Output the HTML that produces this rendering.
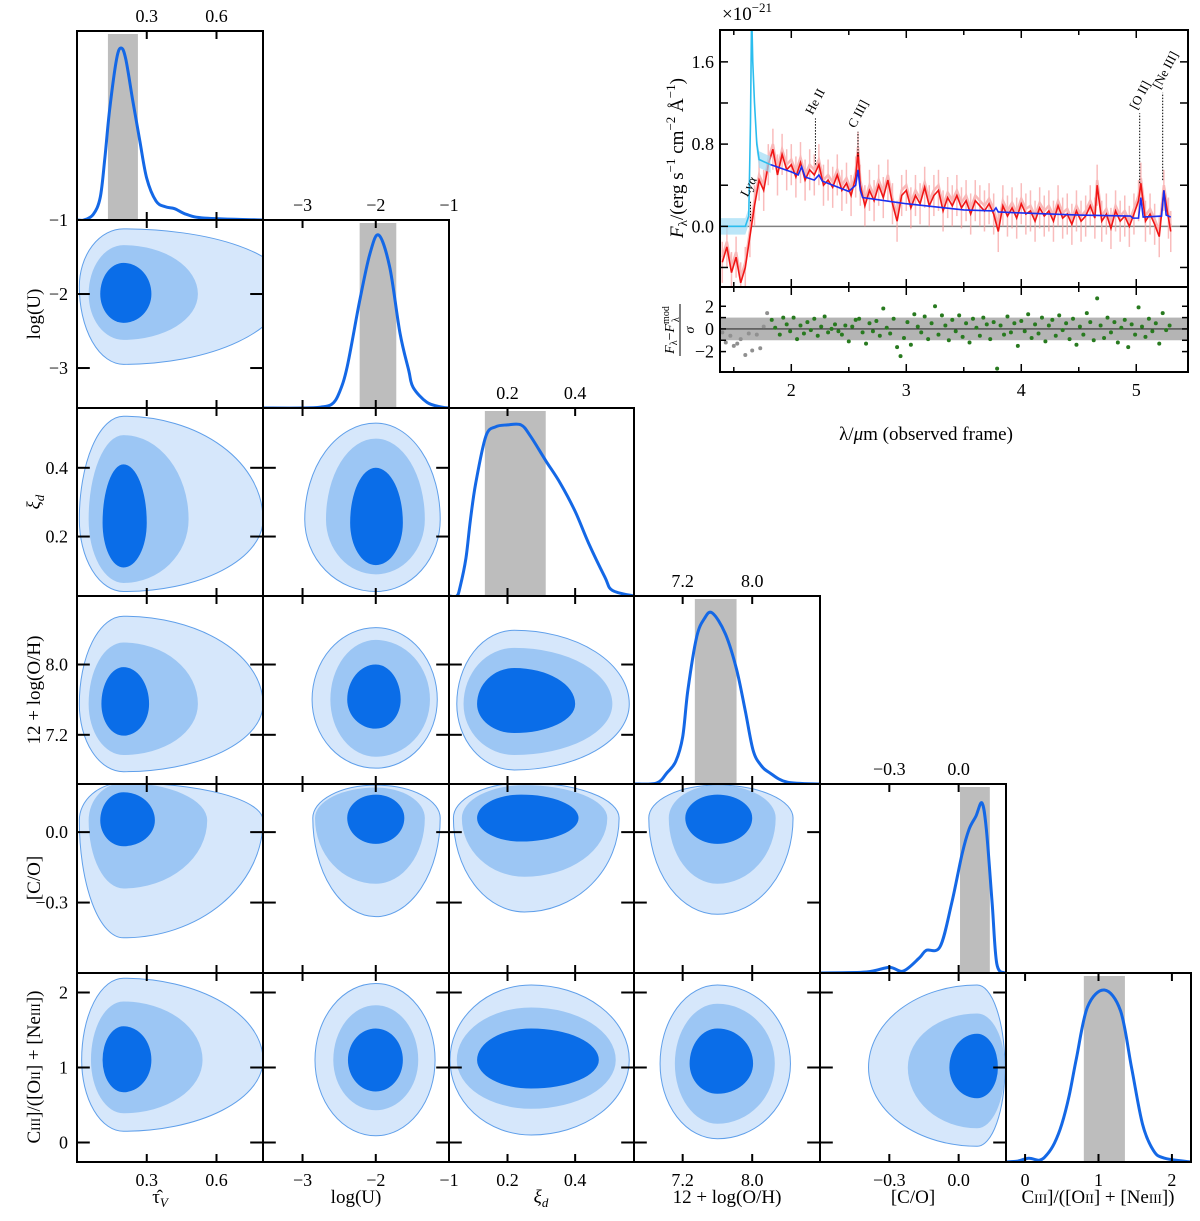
<!DOCTYPE html>
<html><head><meta charset="utf-8"><title>Corner plot</title>
<style>
html,body{margin:0;padding:0;background:#fff}
svg{display:block}
text{font-family:"Liberation Serif","DejaVu Serif",serif;fill:#000}
</style></head>
<body>
<svg id="chart" width="1200" height="1221" viewBox="0 0 1200 1221" xmlns="http://www.w3.org/2000/svg">
 <text x="722" y="20" font-size="19">×10<tspan font-size="13" dy="-8">−21</tspan></text>
 <text transform="translate(683,158) rotate(-90)" font-size="19" text-anchor="middle"><tspan font-style="italic">F</tspan><tspan font-size="13" dy="4">λ</tspan><tspan dy="-4">/(erg s</tspan><tspan font-size="13" dy="-8">−1</tspan><tspan dy="8"> cm</tspan><tspan font-size="13" dy="-8">−2</tspan><tspan dy="8"> Å</tspan><tspan font-size="13" dy="-8">−1</tspan><tspan dy="8">)</tspan></text>
 <text x="926" y="440" font-size="19" text-anchor="middle">λ/<tspan font-style="italic">μ</tspan>m (observed frame)</text>
</svg>
<script>
// ---------- corner plot data ----------
const paramNames = ['tauV','logU','xi','OH','CO','CIII'];
const paramRanges = [[0,0.8],[-3.54,-1],[0.027,0.574],[6.64,8.78],[-0.6,0.205],[-0.26,2.26]];
const paramTicks = [[0.3,0.6],[-3,-2,-1],[0.2,0.4],[7.2,8.0],[-0.3,0.0],[0,1,2]];
const paramTickLabels = [['0.3','0.6'],['−3','−2','−1'],['0.2','0.4'],['7.2','8.0'],['−0.3','0.0'],['0','1','2']];
// 1D marginals
const m_tauV_x = [0,.03,.07,.1,.12,.14,.17,.19,.21,.24,.27,.3,.34,.38,.42,.47,.55,.8];
const m_tauV_d = [0,0,.03,.12,.33,.58,.85,.91,.85,.63,.42,.22,.1,.07,.06,.03,.01,0];
const m_logU_x = [-3.54,-3,-2.75,-2.6,-2.5,-2.39,-2.22,-2.08,-1.96,-1.81,-1.67,-1.55,-1.49,-1.3,-1.1,-1];
const m_logU_d = [0,0,.005,.02,.08,.22,.57,.82,.92,.75,.4,.2,.11,.03,.005,0];
const m_xi_x = [.027,.05,.06,.077,.09,.106,.136,.165,.2,.24,.268,.313,.356,.4,.44,.488,.51,.574];
const m_xi_d = [0,0,.05,.2,.4,.6,.85,.9,.91,.91,.85,.72,.6,.45,.28,.1,.03,0];
const m_OH_x = [6.64,6.9,7.02,7.12,7.2,7.26,7.36,7.45,7.54,7.69,7.82,7.92,8.01,8.1,8.2,8.4,8.78];
const m_OH_d = [0,.005,.06,.12,.25,.5,.78,.88,.91,.8,.61,.39,.18,.1,.06,.01,0];
const m_CO_x = [-.6,-.4,-.3,-.24,-.17,-.14,-.08,-.03,.015,.045,.075,.101,.12,.145,.165,.2];
const m_CO_d = [0,.005,.03,.01,.08,.12,.14,.37,.63,.76,.83,.9,.76,.37,.05,0];
const m_CIII_x = [-.26,-.1,.05,.2,.3,.4,.5,.6,.7,.85,1.08,1.3,1.45,1.6,1.75,1.9,2.26];
const m_CIII_d = [0,.005,.02,.01,.04,.1,.2,.35,.55,.82,.91,.8,.5,.2,.06,.02,0];
// credible bands [lo, hi]
const bands = [[.133,.262],[-2.22,-1.72],[.133,.313],[7.34,7.82],[.006,.135],[.8,1.36]];
// 2D contours: [cx, cy, left, right, down, up] per level (light, mid, dark)
const c_1_0 = [[0.2,-1.9,0.19,0.7,1.05,0.78],[0.2,-2.0,0.15,0.32,0.62,0.66],[0.2,-2.0,0.1,0.12,0.39,0.42]];
const c_2_0 = [[0.2,0.25,0.19,0.6,0.21,0.3],[0.2,0.25,0.15,0.28,0.185,0.245],[0.2,0.24,0.09,0.1,0.13,0.17]];
const c_2_1 = [[-2.0,0.25,0.97,0.88,0.21,0.28],[-2.0,0.25,0.68,0.67,0.16,0.235],[-2.0,0.24,0.35,0.37,0.123,0.16]];
const c_3_0 = [[0.2,7.55,0.19,0.6,0.77,1.0],[0.2,7.55,0.15,0.32,0.58,0.7],[0.2,7.55,0.095,0.11,0.36,0.42]];
const c_3_1 = [[-2.0,7.6,0.87,0.84,0.78,0.82],[-2.0,7.6,0.62,0.74,0.65,0.68],[-2.0,7.6,0.39,0.34,0.33,0.4]];
const c_3_2 = [[0.22,7.55,0.17,0.34,0.75,0.84],[0.22,7.55,0.15,0.29,0.58,0.64],[0.22,7.55,0.11,0.18,0.33,0.41]];
const c_4_0 = [[0.2,0.05,0.19,0.6,0.5,0.16],[0.2,0.05,0.15,0.36,0.29,0.16],[0.2,0.05,0.1,0.135,0.11,0.12]];
const c_4_1 = [[-2.0,0.06,0.86,0.88,0.42,0.14],[-2.0,0.06,0.83,0.67,0.28,0.13],[-2.0,0.06,0.39,0.39,0.11,0.1]];
const c_4_2 = [[0.25,0.06,0.21,0.28,0.4,0.15],[0.25,0.06,0.185,0.245,0.25,0.14],[0.24,0.06,0.13,0.17,0.1,0.1]];
const c_4_3 = [[7.6,0.06,0.79,0.87,0.41,0.14],[7.6,0.06,0.56,0.67,0.28,0.14],[7.6,0.06,0.37,0.4,0.11,0.1]];
const c_5_0 = [[0.2,1.1,0.18,0.6,0.95,1.09],[0.2,1.1,0.14,0.34,0.71,0.78],[0.2,1.1,0.09,0.12,0.43,0.45]];
const c_5_1 = [[-2.0,1.1,0.83,0.81,1.01,1.02],[-2.0,1.1,0.58,0.58,0.67,0.73],[-2.0,1.1,0.38,0.37,0.42,0.42]];
const c_5_2 = [[0.27,1.1,0.24,0.29,1.0,1.0],[0.27,1.1,0.22,0.25,0.65,0.7],[0.27,1.1,0.16,0.2,0.38,0.42]];
const c_5_3 = [[7.6,1.05,0.66,0.84,1.0,1.05],[7.6,1.05,0.49,0.66,0.8,0.8],[7.6,1.05,0.32,0.41,0.4,0.47]];
const c_5_4 = [[0.08,1.0,0.47,0.12,1.05,1.1],[0.08,1.0,0.3,0.12,0.81,0.72],[0.08,1.0,0.12,0.09,0.41,0.45]];

// ---------- spectrum data ----------
const specWave = [1.40,1.44,1.48,1.52,1.56,1.60,1.64,1.68,1.72,1.76,1.80,1.84,1.88,1.92,1.96,2.00,2.04,2.08,2.12,2.16,2.20,2.24,2.28,2.32,2.36,2.40,2.44,2.48,2.52,2.56,2.58,2.60,2.64,2.68,2.72,2.76,2.80,2.84,2.88,2.92,2.96,3.00,3.04,3.08,3.12,3.16,3.20,3.24,3.28,3.32,3.36,3.40,3.44,3.48,3.52,3.56,3.60,3.64,3.68,3.72,3.76,3.80,3.84,3.88,3.92,3.96,4.00,4.04,4.08,4.12,4.16,4.20,4.24,4.28,4.32,4.36,4.40,4.44,4.48,4.52,4.56,4.60,4.64,4.66,4.70,4.74,4.78,4.82,4.86,4.90,4.94,4.98,5.02,5.04,5.08,5.12,5.16,5.20,5.24,5.28,5.30];
const specFlux = [-0.35,-0.2,-0.45,-0.3,-0.55,-0.4,-0.1,0.2,0.45,0.35,0.6,0.75,0.5,0.7,0.55,0.6,0.48,0.62,0.45,0.55,0.5,0.6,0.4,0.45,0.38,0.5,0.35,0.42,0.3,0.48,0.72,0.4,0.2,0.35,0.25,0.4,0.28,0.45,0.22,0.05,0.3,0.35,0.18,0.3,0.22,0.38,0.2,0.3,0.35,0.15,0.28,0.2,0.3,0.18,0.25,0.12,0.25,0.2,0.15,0.22,0.12,-0.05,0.2,0.1,0.18,0.08,0.22,0.12,0.15,0.05,0.18,0.1,0.15,0.05,0.2,0.08,0.12,0.02,0.15,0.05,0.1,0.2,0.08,0.4,0.05,0.12,-0.02,0.15,0.05,0.1,0.0,0.12,0.25,0.42,0.05,0.12,0.02,-0.1,0.35,0.08,-0.05];
const modelWave = [1.82,2.0,2.06,2.09,2.12,2.2,2.24,2.27,2.5,2.56,2.58,2.6,2.62,3.0,3.5,3.76,3.78,3.8,4.0,4.5,4.95,4.97,5.02,5.04,5.06,5.22,5.24,5.26,5.3];
const modelFlux = [0.6,0.53,0.5,0.58,0.48,0.45,0.5,0.44,0.34,0.4,0.55,0.35,0.28,0.22,0.16,0.15,0.18,0.14,0.13,0.11,0.1,0.08,0.08,0.28,0.09,0.1,0.35,0.11,0.09];
const uvWave = [1.38,1.6,1.63,1.645,1.655,1.665,1.68,1.7,1.72,1.82];
const uvFlux = [0,0,0.1,1.0,2.1,1.6,1.2,0.8,0.65,0.6];
const lineNames = ['Lyα','He II','C III]','[O II]','[Ne III]'];
const lineWave = [1.645,2.21,2.58,5.03,5.23];
const lineBase = [0.05,0.6,0.68,0.42,0.45];
const lineTop = [0.25,1.05,0.92,1.1,1.3];
const residWave = [1.40,1.43,1.47,1.50,1.53,1.56,1.60,1.63,1.66,1.70,1.73,1.76,1.79,1.83,1.86,1.9,1.93,1.96,1.99,2.02,2.05,2.08,2.11,2.14,2.17,2.2,2.23,2.26,2.29,2.32,2.35,2.38,2.41,2.44,2.47,2.5,2.53,2.56,2.59,2.62,2.65,2.68,2.71,2.74,2.77,2.8,2.83,2.86,2.89,2.92,2.95,2.98,3.01,3.04,3.07,3.1,3.13,3.16,3.19,3.22,3.25,3.28,3.31,3.34,3.37,3.4,3.43,3.46,3.49,3.52,3.55,3.58,3.61,3.64,3.67,3.7,3.73,3.76,3.79,3.82,3.85,3.88,3.91,3.94,3.97,4.0,4.03,4.06,4.09,4.12,4.15,4.18,4.21,4.24,4.27,4.3,4.33,4.36,4.39,4.42,4.45,4.48,4.51,4.54,4.57,4.6,4.63,4.66,4.69,4.72,4.75,4.78,4.81,4.84,4.87,4.9,4.93,4.96,4.99,5.02,5.05,5.08,5.11,5.14,5.17,5.2,5.23,5.26,5.29];
const residVal = [-0.3,-1.2,-0.6,-1.5,-1.3,-0.9,-2.3,-0.4,-1.9,-0.5,-1.7,0.2,1.4,0.8,0.1,-0.5,1.0,0.4,-0.2,1.0,-0.9,0.3,-0.4,0.6,-0.1,0.9,-0.6,0.2,1.1,-0.3,0.0,0.4,-0.2,-0.5,0.3,-1.1,0.2,0.8,0.9,-0.3,-1.3,0.5,-0.2,0.7,-0.6,1.8,0.1,-0.4,0.9,-1.6,-2.4,-0.8,0.6,-1.4,1.3,0.2,-0.3,1.1,-0.9,0.5,2.0,-0.5,1.2,0.3,-1.0,0.8,-0.2,1.2,-0.7,0.5,-1.2,0.9,0.1,-0.6,1.0,0.4,-0.9,0.6,-3.5,0.3,-0.5,1.1,-0.3,0.5,-1.5,0.7,-0.2,1.3,-0.8,0.4,-0.4,1.0,-1.1,0.3,0.8,-0.6,1.2,-0.1,0.5,-0.9,0.9,-1.4,0.2,-0.5,1.4,0.6,-1.0,2.7,0.3,-0.8,1.0,-0.3,0.6,-1.2,0.1,0.8,-1.6,0.4,-0.5,1.9,0.2,-0.7,0.9,-0.2,0.5,-1.3,1.4,-0.1,0.3];

// ---------- helpers ----------
const NS='http://www.w3.org/2000/svg';
const svg=document.getElementById('chart');
function mk(tag, attrs, parent){const e=document.createElementNS(NS,tag);for(const k in attrs)e.setAttribute(k,attrs[k]);(parent||svg).appendChild(e);return e;}
const colEdges=[77,263,449,634,820,1006,1191];
const rowEdges=[31,220,408,596,784,973,1162];
function sx(v,i){const r=paramRanges[i];return colEdges[i]+(v-r[0])/(r[1]-r[0])*(colEdges[i+1]-colEdges[i]);}
function sy(v,j){const r=paramRanges[j];return rowEdges[j+1]-(v-r[0])/(r[1]-r[0])*(rowEdges[j+1]-rowEdges[j]);}
function smooth(pts){let d='M'+pts[0][0].toFixed(2)+','+pts[0][1].toFixed(2);
 for(let i=0;i<pts.length-1;i++){const p0=pts[Math.max(0,i-1)],p1=pts[i],p2=pts[i+1],p3=pts[Math.min(pts.length-1,i+2)];
  const c1=[p1[0]+(p2[0]-p0[0])/6,p1[1]+(p2[1]-p0[1])/6],c2=[p2[0]-(p3[0]-p1[0])/6,p2[1]-(p3[1]-p1[1])/6];
  d+='C'+c1[0].toFixed(2)+','+c1[1].toFixed(2)+' '+c2[0].toFixed(2)+','+c2[1].toFixed(2)+' '+p2[0].toFixed(2)+','+p2[1].toFixed(2);}
 return d;}
function txt(x,y,s,size,anchor,parent){const t=mk('text',{x:x,y:y,'font-size':size,'text-anchor':anchor||'middle'},parent);t.textContent=s;return t;}

const defs=mk('defs',{});
const marg=[[m_tauV_x,m_tauV_d],[m_logU_x,m_logU_d],[m_xi_x,m_xi_d],[m_OH_x,m_OH_d],[m_CO_x,m_CO_d],[m_CIII_x,m_CIII_d]];
const cont={'1_0':c_1_0,'2_0':c_2_0,'2_1':c_2_1,'3_0':c_3_0,'3_1':c_3_1,'3_2':c_3_2,'4_0':c_4_0,'4_1':c_4_1,'4_2':c_4_2,'4_3':c_4_3,'5_0':c_5_0,'5_1':c_5_1,'5_2':c_5_2,'5_3':c_5_3,'5_4':c_5_4};
const fills=['#d6e7fb','#9cc6f4','#0a6de8'];
const TL=8;

for(let r=0;r<6;r++){for(let c=0;c<=r;c++){
 const x0=colEdges[c],x1=colEdges[c+1],y0=rowEdges[r],y1=rowEdges[r+1];
 const g=mk('g',{});
 
 
 const cp=mk('clipPath',{id:'cp'+r+c},defs);mk('rect',{x:x0,y:y0,width:x1-x0,height:y1-y0},cp);
 const inner=mk('g',{'clip-path':'url(#cp'+r+c+')'},g);
 if(r===c){
  const b=bands[c];
  const band=mk('rect',{x:sx(b[0],c),y:y0+3,width:sx(b[1],c)-sx(b[0],c),height:y1-y0-3,fill:'#bdbdbd'},inner);
  
  
  const xs=marg[c][0],ds=marg[c][1];
  const pts=xs.map((v,k)=>[sx(v,c),y1-ds[k]*(y1-y0)]);
  const ln=mk('path',{d:smooth(pts),fill:'none',stroke:'#1468e6','stroke-width':3},inner);
  
  
 } else {
  const lv=cont[r+'_'+c];
  lv.forEach((e,k)=>{
   const cx=sx(e[0],c),cy=sy(e[1],r);
   const L=cx-sx(e[0]-e[2],c),R=sx(e[0]+e[3],c)-cx,D=sy(e[1]-e[4],r)-cy,U=cy-sy(e[1]+e[5],r);
   const d='M'+(cx-L)+','+cy+' A'+L+' '+U+' 0 0 1 '+cx+','+(cy-U)+' A'+R+' '+U+' 0 0 1 '+(cx+R)+','+cy+' A'+R+' '+D+' 0 0 1 '+cx+','+(cy+D)+' A'+L+' '+D+' 0 0 1 '+(cx-L)+','+cy+'Z';
   const p=mk('path',{d:d,fill:fills[k],stroke:k===0?'#5f9fea':'none','stroke-width':1},inner);
   
   
  });
 }
 const fr=mk('rect',{x:x0,y:y0,width:x1-x0,height:y1-y0,fill:'none',stroke:'#000','stroke-width':2},g);
 
 
 paramTicks[c].forEach(v=>{const x=sx(v,c);
  mk('line',{x1:x,x2:x,y1:y1,y2:y1-TL,stroke:'#000','stroke-width':2},g);
  mk('line',{x1:x,x2:x,y1:y0,y2:y0+TL,stroke:'#000','stroke-width':2},g);});
 if(r!==c){paramTicks[r].forEach(v=>{const y=sy(v,r);
  mk('line',{x1:x0,x2:x0+TL*1.6,y1:y,y2:y,stroke:'#000','stroke-width':2},g);
  mk('line',{x1:x1,x2:x1-TL*1.6,y1:y,y2:y,stroke:'#000','stroke-width':2},g);});}
 if(r===c&&c<5){paramTicks[c].forEach((v,k)=>{const t=txt(sx(v,c),y0-9,paramTickLabels[c][k],18);
  
  });}
 if(c===0&&r>0){paramTicks[r].forEach((v,k)=>{const t=txt(x0-9,sy(v,r)+6,paramTickLabels[r][k],18,'end');
  
  });}
 if(r===5){paramTicks[c].forEach((v,k)=>{const t=txt(sx(v,c),y1+24,paramTickLabels[c][k],18);
  
  });}
}}

function titleBottom(x,html,name){const t=mk('text',{x:x,y:1203,'font-size':19,'text-anchor':'middle'});t.innerHTML=html;
 
 }
function titleLeft(y,html,name){const t=mk('text',{x:0,y:0,'font-size':19,'text-anchor':'middle',transform:'translate(40,'+y+') rotate(-90)'});t.innerHTML=html;
 
 }
const ciii='C<tspan font-size="13">III</tspan>]/([O<tspan font-size="13">II</tspan>] + [Ne<tspan font-size="13">III</tspan>])';
titleBottom(160,'τ̂<tspan font-style="italic" font-size="13" dy="4">V</tspan>','x-title-tauV');
titleBottom(356,'log(U)','x-title-logU');
titleBottom(541,'<tspan font-style="italic">ξ</tspan><tspan font-style="italic" font-size="13" dy="4">d</tspan>','x-title-xi');
titleBottom(727,'12 + log(O/H)','x-title-OH');
titleBottom(913,'[C/O]','x-title-CO');
titleBottom(1098,ciii,'x-title-CIII');
titleLeft(314,'log(U)','y-title-logU');
titleLeft(502,'<tspan font-style="italic">ξ</tspan><tspan font-style="italic" font-size="13" dy="4">d</tspan>','y-title-xi');
titleLeft(690,'12 + log(O/H)','y-title-OH');
titleLeft(878,'[C/O]','y-title-CO');
titleLeft(1067,ciii,'y-title-CIII');

// ---------- spectrum inset ----------
const SX0=720,SX1=1188,ST=30,SM=287,SB=372;
const wRange=[1.38,5.45],fRange=[-0.59,1.91],rRange=[-3.8,3.7];
function ws(w){return SX0+(w-wRange[0])/(wRange[1]-wRange[0])*(SX1-SX0);}
function fs(f){return SM-(f-fRange[0])/(fRange[1]-fRange[0])*(SM-ST);}
function rs(v){return SB-(v-rRange[0])/(rRange[1]-rRange[0])*(SB-SM);}
const sg=mk('g',{});


const scp=mk('clipPath',{id:'scp'},defs);mk('rect',{x:SX0,y:ST,width:SX1-SX0,height:SM-ST},scp);
const sin=mk('g',{'clip-path':'url(#scp)'},sg);
mk('line',{x1:SX0,x2:SX1,y1:fs(0),y2:fs(0),stroke:'#808080','stroke-width':1.5},sin);
specWave.forEach((w,k)=>{const e=mk('line',{x1:ws(w),x2:ws(w),y1:fs(specFlux[k]-0.2),y2:fs(specFlux[k]+0.2),stroke:'#f7a0a0','stroke-width':1.5,opacity:0.7},sin);
 
 });
const pink=mk('polyline',{points:specWave.map((w,k)=>ws(w)+','+fs(specFlux[k]+0.05)).join(' '),fill:'none',stroke:'#f9b8b8','stroke-width':2.5},sin);


const red=mk('polyline',{points:specWave.map((w,k)=>ws(w)+','+fs(specFlux[k])).join(' '),fill:'none',stroke:'#f01515','stroke-width':1.6},sin);


const uvb=mk('polygon',{points:uvWave.map((w,k)=>ws(w)+','+fs(uvFlux[k]+0.08)).concat(uvWave.slice().reverse().map((w,k)=>ws(w)+','+fs(uvFlux[uvFlux.length-1-k]-0.08))).join(' '),fill:'#9fdcf5',opacity:0.7},sin);


const uv=mk('polyline',{points:uvWave.map((w,k)=>ws(w)+','+fs(uvFlux[k])).join(' '),fill:'none',stroke:'#2bbdee','stroke-width':1.6},sin);


const mdl=mk('polyline',{points:modelWave.map((w,k)=>ws(w)+','+fs(modelFlux[k])).join(' '),fill:'none',stroke:'#1a2ff0','stroke-width':1.6},sin);


lineNames.forEach((n,k)=>{const x=ws(lineWave[k]);
 const l=mk('line',{x1:x,x2:x,y1:fs(lineBase[k]),y2:fs(lineTop[k]),stroke:'#000','stroke-width':1,'stroke-dasharray':'1.5,1.5'},sg);
 
 
 const t=mk('text',{x:0,y:0,'font-size':13,'text-anchor':'start',transform:'translate('+(x-3)+','+(fs(lineTop[k])-3)+') rotate(-62)'},sg);
 t.textContent=n;
 
 });
const rcp=mk('clipPath',{id:'rcp'},defs);mk('rect',{x:SX0,y:SM,width:SX1-SX0,height:SB-SM},rcp);
const rin=mk('g',{'clip-path':'url(#rcp)'},sg);
mk('rect',{x:SX0,y:rs(1),width:SX1-SX0,height:rs(-1)-rs(1),fill:'#b4b4b4'},rin);
mk('line',{x1:SX0,x2:SX1,y1:rs(0),y2:rs(0),stroke:'#333','stroke-width':1.2},rin);
residWave.forEach((w,k)=>{const p=mk('circle',{cx:ws(w),cy:rs(residVal[k]),r:2,fill:w<1.81?'#909090':'#287a1f'},rin);
 
 });
[[ST,SM],[SM,SB]].forEach(p=>{mk('rect',{x:SX0,y:p[0],width:SX1-SX0,height:p[1]-p[0],fill:'none',stroke:'#000','stroke-width':2},sg);});
const wTicks=[1.5,2,2.5,3,3.5,4,4.5,5];
wTicks.forEach(w=>{const x=ws(w),L=(w%1===0)?8:5;
 [[ST,1],[SM,-1],[SM,1],[SB,-1]].forEach(q=>mk('line',{x1:x,x2:x,y1:q[0],y2:q[0]+q[1]*L,stroke:'#000','stroke-width':1.5},sg));});
[2,3,4,5].forEach(w=>{const t=txt(ws(w),SB+24,String(w),18,'middle',sg);
 
 });
const fTicks=[-0.4,0,0.4,0.8,1.2,1.6];
fTicks.forEach(f=>{const y=fs(f);mk('line',{x1:SX0,x2:SX0+8,y1:y,y2:y,stroke:'#000','stroke-width':1.5},sg);mk('line',{x1:SX1,x2:SX1-8,y1:y,y2:y,stroke:'#000','stroke-width':1.5},sg);});
[[0,'0.0'],[0.8,'0.8'],[1.6,'1.6']].forEach(p=>{const t=txt(SX0-6,fs(p[0])+6,p[1],18,'end',sg);
 
 });
[-2,-1,0,1,2].forEach(v=>{const y=rs(v);mk('line',{x1:SX0,x2:SX0+6,y1:y,y2:y,stroke:'#000','stroke-width':1.5},sg);mk('line',{x1:SX1,x2:SX1-6,y1:y,y2:y,stroke:'#000','stroke-width':1.5},sg);});
[[2,'2'],[0,'0'],[-2,'−2']].forEach(p=>{const t=txt(SX0-6,rs(p[0])+6,p[1],18,'end',sg);
 
 });
// residual axis title
const rt=mk('g',{transform:'translate(680,330) rotate(-90)'});


const rtn=mk('text',{x:0,y:-6,'font-size':14,'text-anchor':'middle'},rt);
rtn.innerHTML='<tspan font-style="italic">F</tspan><tspan font-size="10" dy="3">λ</tspan><tspan dy="-3">−</tspan><tspan font-style="italic">F</tspan><tspan font-size="10" dy="-5">mod</tspan><tspan font-size="10" dx="-16" dy="10">λ</tspan>';
mk('line',{x1:-26,x2:26,y1:0,y2:0,stroke:'#000','stroke-width':1},rt);
const rts=txt(0,14,'σ',14,'middle',rt);
rts.setAttribute('font-style','italic');
</script>
</body></html>
